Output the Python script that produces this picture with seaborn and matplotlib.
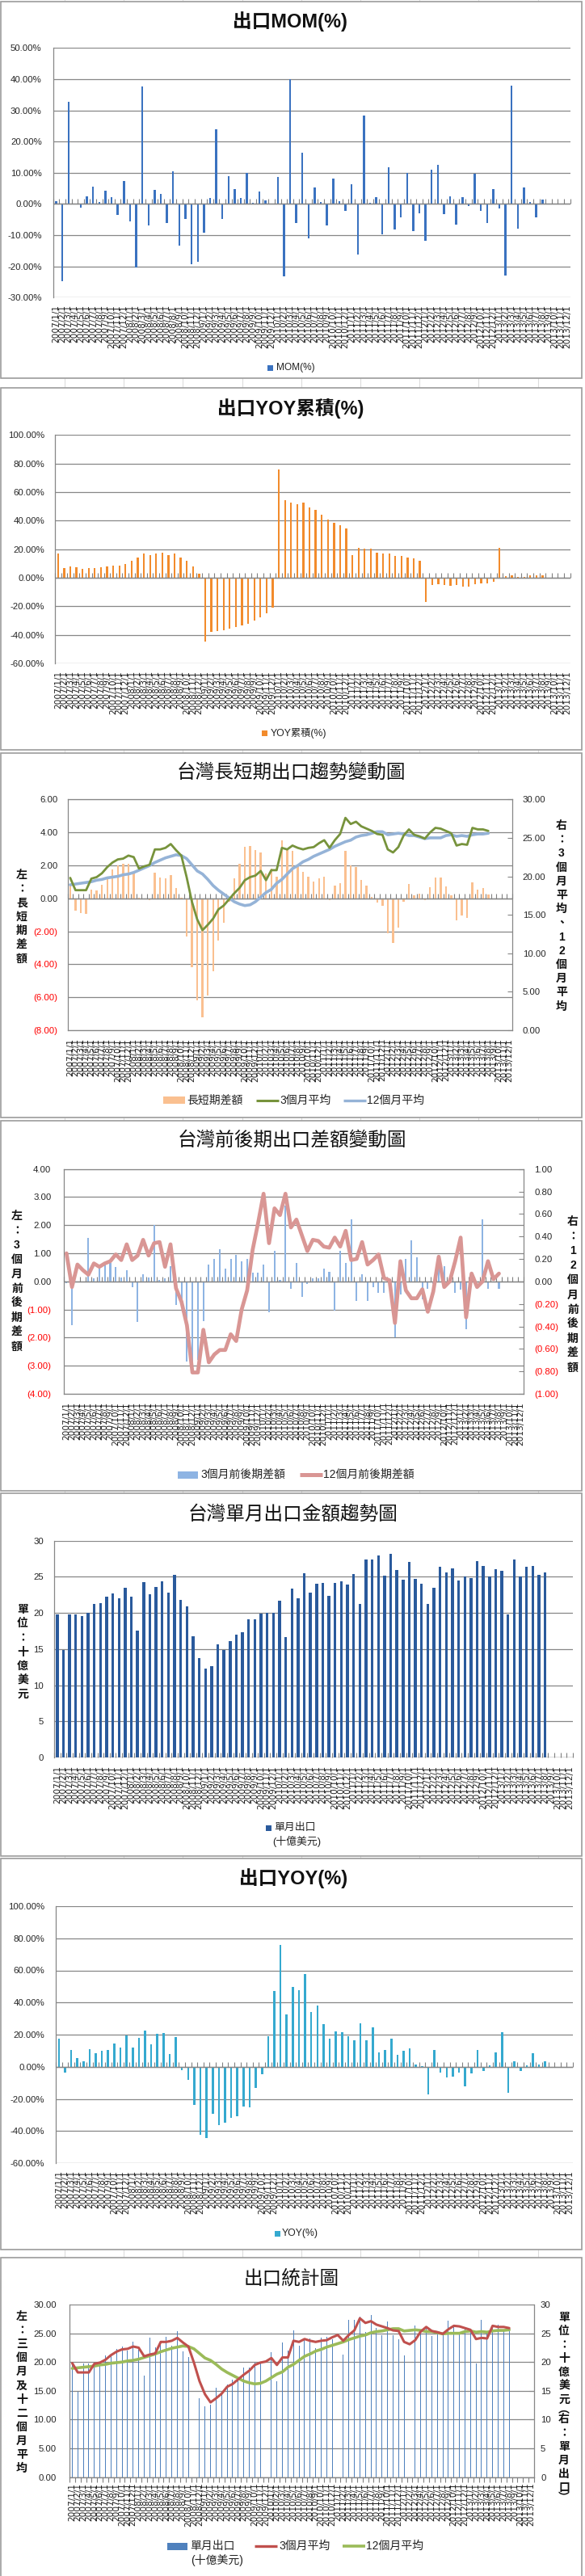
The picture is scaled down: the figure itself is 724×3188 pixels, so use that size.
import numpy as np
import pandas as pd
import matplotlib
matplotlib.use("Agg")
import matplotlib.pyplot as plt
import seaborn as sns
from matplotlib.patches import Rectangle
from matplotlib.lines import Line2D

# ---------------- data ----------------
YEARS = [2007, 2008, 2009, 2010, 2011, 2012, 2013]
MONTHS = list(range(1, 13))
CATS = [f"{y}/{m}/1" for y in YEARS for m in MONTHS]   # 84 category labels

MOM = [0.9, -24.7, 32.7, 0.2, -1.1, 2.4, 5.5, 0.6, 4.2, 2.2, -3.5, 7.3,
       -5.5, -20.3, 37.6, -6.8, 4.5, 3.2, -6.0, 10.4, -13.3, -4.8, -19.3, -18.6,
       -9.1, 1.9, 23.9, -4.7, 8.9, 4.7, 1.9, 10.0, 0.3, 4.0, 1.1, 0.1,
       8.6, -23.1, 40.0, -6.1, 16.4, -11.1, 5.3, 0.6, -6.8, 8.1, 0.9, -2.2,
       6.3, -16.2, 28.3, 0.3, 2.2, -9.8, 11.7, -8.1, -4.4, 10.0, -8.6, -2.9,
       -11.7, 11.0, 12.5, -3.2, 2.4, -6.6, 2.2, -0.7, 9.7, -2.2, -6.1, 4.7,
       -1.4, -22.9, 37.9, -7.9, 5.3, 0.5, -4.2, 1.4]

YOY_CUM = [17.2, 7.0, 8.1, 7.6, 6.4, 7.0, 7.0, 7.6, 8.1, 8.7, 8.7, 9.8,
           11.6, 14.4, 17.2, 16.1, 17.2, 17.8, 16.1, 16.7, 14.4, 11.6, 8.1, 3.0,
           -44.5, -37.9, -37.3, -36.7, -35.6, -34.5, -33.3, -32.2, -29.9, -27.7, -24.8, -20.8,
           75.8, 54.2, 52.5, 51.3, 52.5, 49.1, 47.3, 43.9, 40.5, 38.3, 36.6, 34.8,
           16.1, 21.2, 20.1, 20.6, 17.8, 16.7, 16.7, 15.5, 15.0, 14.4, 13.3, 12.1,
           -17.0, -4.9, -4.4, -4.9, -5.5, -4.9, -6.1, -6.1, -4.4, -3.8, -3.8, -2.7,
           21.2, 1.3, 1.9, 0.8, 0.8, 1.9, 1.9, 1.9]

EXPORTS = [19.8, 14.9, 19.8, 19.8, 19.6, 20.0, 21.2, 21.4, 22.3, 22.7, 22.0, 23.5,
           22.2, 17.6, 24.3, 22.6, 23.6, 24.4, 22.8, 25.3, 21.8, 20.9, 16.8, 13.7,
           12.3, 12.6, 15.6, 14.9, 16.1, 17.0, 17.3, 19.1, 19.1, 19.9, 20.0, 20.0,
           21.7, 16.7, 23.4, 22.0, 25.5, 22.8, 24.0, 24.1, 22.4, 24.2, 24.4, 23.9,
           25.4, 21.3, 27.4, 27.4, 27.9, 25.2, 28.2, 25.9, 24.6, 27.1, 24.7, 24.0,
           21.2, 23.5, 26.4, 25.6, 26.2, 24.5, 25.0, 24.8, 27.2, 26.5, 25.0, 26.1,
           25.8, 19.8, 27.4, 25.1, 26.4, 26.5, 25.3, 25.6]

YOY = [17.3, -3.5, 10.3, 5.2, 3.2, 10.8, 8.2, 9.8, 10.3, 14.3, 11.8, 19.4,
       11.8, 17.8, 22.4, 13.8, 20.4, 20.9, 7.7, 18.4, -1.9, -8.4, -23.6, -42.3,
       -44.6, -29.1, -36.2, -34.7, -31.6, -30.6, -24.6, -25.1, -13.0, -4.9, 18.9, 47.1,
       75.9, 32.5, 49.7, 47.6, 57.7, 34.0, 38.0, 26.4, 17.3, 21.9, 21.4, 18.9,
       16.3, 26.9, 16.3, 24.4, 8.8, 10.3, 17.3, 7.2, 9.8, 11.3, 1.2, 0.3,
       -17.0, 10.3, -3.4, -6.9, -6.4, -3.4, -12.0, -4.4, 10.3, -2.4, 0.7, 8.8,
       21.4, -16.0, 3.2, -2.4, 0.7, 8.2, 1.2, 3.2]

AVG3 = [19.8, 18.2, 18.2, 18.2, 19.7, 19.9, 20.4, 21.2, 21.8, 22.2, 22.3, 22.7,
        22.5, 21.0, 21.3, 21.5, 23.5, 23.5, 23.7, 24.2, 23.4, 22.7, 19.9, 16.7,
        14.4, 13.0, 13.7, 14.5, 15.7, 16.2, 17.0, 17.8, 18.5, 19.5, 19.9, 20.1,
        20.7, 19.5, 20.8, 20.8, 23.7, 23.5, 24.0, 23.7, 23.5, 23.7, 23.8, 24.3,
        24.7, 23.7, 24.7, 25.5, 27.6, 26.8, 27.1, 26.5, 26.2, 25.9, 25.5, 25.4,
        23.5, 23.1, 23.8, 25.3, 26.1, 25.4, 25.2, 24.9, 25.7, 26.3, 26.2, 25.9,
        25.6, 24.0, 24.2, 24.1, 26.3, 26.1, 26.1, 25.9]

AVG12 = [18.9, 19.0, 19.1, 19.2, 19.3, 19.5, 19.6, 19.8, 19.9, 20.0, 20.2, 20.3,
         20.5, 20.8, 21.1, 21.4, 21.8, 22.1, 22.4, 22.6, 22.8, 22.7, 22.3, 21.5,
         20.7, 20.3, 19.6, 18.8, 18.2, 17.7, 17.2, 16.7, 16.4, 16.2, 16.3, 16.7,
         17.3, 17.9, 18.3, 19.1, 19.6, 20.3, 21.0, 21.4, 21.9, 22.2, 22.6, 22.9,
         23.2, 23.5, 23.9, 24.2, 24.5, 24.7, 25.1, 25.3, 25.4, 25.6, 25.8, 25.8,
         25.4, 25.5, 25.6, 25.5, 25.3, 25.3, 25.1, 24.9, 25.0, 25.0, 25.0, 25.3,
         25.4, 25.2, 25.3, 25.2, 25.4, 25.5, 25.5, 25.6]

LS_DIFF = [0.8, -0.75, -0.9, -0.95, 0.55, 0.5, 0.8, 1.2, 1.75, 2.0, 2.1, 2.1,
           1.6, 0.05, -0.05, -0.1, 1.55, 1.25, 1.2, 1.4, 0.6, 0.05, -2.3, -4.2,
           -6.2, -7.2, -5.9, -4.4, -2.55, -1.5, -0.2, 1.2, 2.1, 3.1, 3.15, 2.95,
           2.8, 1.5, 1.8, 1.3, 3.5, 3.0, 2.9, 2.0, 1.6, 1.3, 1.0, 1.2,
           1.3, -0.1, 0.75, 0.9, 2.9, 2.0, 1.9, 1.1, 0.75, 0.1, -0.25, -0.45,
           -2.1, -2.7, -1.8, -0.2, 0.85, 0.2, 0.3, -0.1, 0.65, 1.25, 1.25, 0.7,
           0.2, -1.35, -1.05, -1.2, 0.95, 0.55, 0.6, 0.25]

D3 = [-0.05, -1.55, 0.0, 0.0, 1.55, 0.1, 0.5, 0.6, 0.65, 0.5, 0.15, 0.4,
      -0.2, -1.45, 0.25, 0.15, 2.0, 0.05, 0.1, 0.55, -0.85, -0.7, -2.85, -3.2,
      -2.8, -1.4, 0.6, 0.8, 1.15, 0.45, 0.8, 0.95, 0.7, 0.8, 0.3, 0.3,
      0.6, -1.1, 1.1, 0.05, 2.7, -0.25, 0.65, -0.55, -0.1, 0.1, 0.1, 0.45,
      0.35, -1.05, 1.1, 0.65, 2.2, -0.7, 0.25, -0.7, -0.2, -0.4, -0.4, -0.05,
      -2.0, -0.45, 0.8, 1.45, 0.85, -0.65, -0.25, -0.1, 0.6, 0.55, -0.05, -0.4,
      -0.3, -1.7, 0.1, 0.0, 2.2, -0.25, 0.0, -0.25]

D12 = [0.25, -0.05, 0.15, 0.10, 0.06, 0.16, 0.13, 0.16, 0.18, 0.24, 0.19, 0.33,
       0.19, 0.23, 0.37, 0.23, 0.34, 0.35, 0.13, 0.33, -0.06, -0.18, -0.39, -0.81,
       -0.81, -0.43, -0.72, -0.65, -0.61, -0.61, -0.47, -0.53, -0.25, -0.08, 0.28, 0.52,
       0.78, 0.34, 0.65, 0.59, 0.78, 0.48, 0.55, 0.41, 0.27, 0.37, 0.36, 0.31,
       0.30, 0.39, 0.31, 0.45, 0.19, 0.20, 0.35, 0.15, 0.19, 0.24, 0.03, 0.01,
       -0.37, 0.18, -0.08, -0.15, -0.15, -0.07, -0.27, -0.09, 0.22, -0.05, 0.00, 0.18,
       0.39, -0.32, 0.07, -0.05, 0.00, 0.18, 0.02, 0.07]

# ---------------- style ----------------
sns.set_style("white")
plt.rcParams['font.family'] = ['Liberation Sans', 'Noto Sans CJK TC', 'DejaVu Sans']
plt.rcParams['axes.unicode_minus'] = False

W, H = 724, 3188
fig = plt.figure(figsize=(W / 100, H / 100), dpi=100)
fig.patch.set_facecolor('white')

GRID = '#878787'
N = len(CATS)
BOUNDS = np.arange(N + 1) - 0.5


def fx(x):
    return x / W


def fy(y):
    return 1 - y / H


def add_ax(l, t, r, b):
    return fig.add_axes([fx(l), fy(b), (r - l) / W, (b - t) / H])


# faint spreadsheet grid behind the chart objects
for gx in [80, 153, 226, 300, 373, 446, 519, 592, 666]:
    fig.add_artist(Line2D([fx(gx)] * 2, [0, 1], transform=fig.transFigure,
                          color='#DCDCDC', lw=0.8, zorder=-2))

# chart object frames
for (t, b) in [(2, 468), (480, 928), (932, 1383), (1387, 1845), (1848, 2297),
               (2300, 2784), (2794, 3200)]:
    fig.add_artist(Rectangle((fx(1), fy(b)), 719 / W, (b - t) / H,
                             transform=fig.transFigure, facecolor='white',
                             edgecolor='#9C9C9C', lw=1.2, zorder=-1))


def bars(ax, values, color, width, zorder=2):
    df = pd.DataFrame({'month': CATS[:len(values)], 'v': values})
    sns.barplot(data=df, x='month', y='v', order=CATS, color=color, width=width,
                saturation=1, errorbar=None, ax=ax, linewidth=0, zorder=zorder)
    ax.set_xlabel('')
    ax.set_ylabel('')


def line(ax, values, color, lw):
    sns.lineplot(x=np.arange(len(values)), y=values, color=color, linewidth=lw,
                 ax=ax, solid_capstyle='round', solid_joinstyle='round', zorder=4)
    ax.set_xlabel('')
    ax.set_ylabel('')


def xcats(ax, pad_px):
    ax.set_xlim(-0.5, N - 0.5)
    ax.set_xticks(range(N))
    ax.set_xticklabels(CATS, rotation=90, fontsize=7.6, family='DejaVu Sans',
                       color='#202020')
    ax.tick_params(axis='x', length=0, pad=pad_px * 0.72)


def yaxis(ax, lo, hi, step, fmt, pad_px, red_neg=False, grid=True, tick_len=0):
    ticks = np.arange(lo, hi + step / 2, step)
    ax.set_ylim(lo, hi)
    ax.set_yticks(ticks)
    ax.set_yticklabels([fmt(t) for t in ticks], fontsize=8.2, color='#262626')
    ax.tick_params(axis='y', length=tick_len, direction='in', color=GRID,
                   pad=pad_px * 0.72)
    if red_neg:
        for t, lab in zip(ticks, ax.get_yticklabels()):
            if t < -1e-9:
                lab.set_color('#FF0000')
    if grid:
        ax.yaxis.grid(True, color=GRID, lw=0.9)
        ax.xaxis.grid(False)
        ax.set_axisbelow(True)


def spines(ax, box=False):
    for s in ['top', 'right', 'bottom', 'left']:
        ax.spines[s].set_visible(box or s == 'left')
        ax.spines[s].set_color(GRID)
        ax.spines[s].set_linewidth(0.9)
    ax.set_facecolor('none')


def zero_ticks(ax, down=False):
    ax.axhline(0, color=GRID, lw=1.0, zorder=2.5)
    ax.plot(BOUNDS, np.zeros(len(BOUNDS)), ls='none', marker=3 if down else 2,
            ms=4, mew=0.8, color='#808080', clip_on=False, zorder=3)


def title(x, y, s, bold=True):
    fig.text(fx(x), fy(y), s, ha='center', va='center', fontsize=17,
             fontweight='bold' if bold else 'normal', color='#111111')


def vtext(x, y0, chars, steps, size=10):
    y = y0
    for i, ch in enumerate(chars):
        fig.text(fx(x), fy(y), ch, ha='center', va='center', fontsize=size,
                 fontweight='bold', color='#111111')
        y += steps[i] if isinstance(steps, list) else steps


def leg_patch(x0, x1, yc, h, color):
    fig.add_artist(Rectangle((fx(x0), fy(yc + h / 2)), (x1 - x0) / W, h / H,
                             transform=fig.transFigure, facecolor=color, lw=0))


def leg_line(x0, x1, yc, color, lw):
    fig.add_artist(Line2D([fx(x0), fx(x1)], [fy(yc)] * 2, transform=fig.transFigure,
                          color=color, lw=lw, solid_capstyle='butt'))


def leg_text(x, yc, s, size=9.5):
    fig.text(fx(x), fy(yc), s, ha='left', va='center', fontsize=size, color='#222222')


def pct(v):
    return f"{v:.2f}%"


def paren(v):
    return f"({abs(v):.2f})" if v < -1e-9 else f"{abs(v):.2f}"


# ================= Panel 1: MOM =================
title(359, 27, '出口MOM(%)')
ax = add_ax(65.7, 59.3, 705.6, 368.3)
bars(ax, MOM, '#3A72C0', 0.32)
xcats(ax, 9)
yaxis(ax, -30, 50, 10, pct, 14)
spines(ax)
zero_ticks(ax)
leg_patch(331, 338, 455, 7, '#3A72C0')
leg_text(342, 455, 'MOM(%)', 8.6)

# ================= Panel 2: YOY cumulative =================
title(360, 505, '出口YOY累積(%)')
ax = add_ax(68, 538.3, 705.6, 821)
bars(ax, YOY_CUM, '#F28B2C', 0.30)
xcats(ax, 9)
yaxis(ax, -60, 100, 20, pct, 13)
spines(ax)
zero_ticks(ax)
leg_patch(324, 331, 907.7, 7, '#F28B2C')
leg_text(335, 907.7, 'YOY累積(%)', 8.8)

# ================= Panel 3: long/short trend =================
title(360, 957, '台灣長短期出口趨勢變動圖', bold=False)
ax = add_ax(83.6, 989.3, 633.8, 1275)
bars(ax, LS_DIFF, '#FAC090', 0.36)
xcats(ax, 10)
yaxis(ax, -8, 6, 2, paren, 12, red_neg=True)
spines(ax, box=True)
zero_ticks(ax)
ax2 = ax.twinx()
line(ax2, AVG12, '#95B3D7', 2.6)
line(ax2, AVG3, '#77933C', 2.0)
ax2.set_xlim(-0.5, N - 0.5)
yaxis(ax2, 0, 30, 5, lambda v: f"{v:.2f}", 13, grid=False, tick_len=4)
for s in ax2.spines.values():
    s.set_visible(False)
vtext(27, 1083, list('左：長短期差額'), 17.3)
vtext(695, 1022, ['右', '：', '3', '個', '月', '平', '均', '、', '1', '2', '個', '月', '平', '均'], 17.2)
leg_patch(202, 229, 1361.7, 9, '#FAC090')
leg_text(231, 1361.7, '長短期差額', 10)
leg_line(317, 345, 1361.7, '#77933C', 2.2)
leg_text(346, 1361.7, '3個月平均', 10)
leg_line(425, 453, 1361.7, '#95B3D7', 2.4)
leg_text(454, 1361.7, '12個月平均', 10)

# ================= Panel 4: period-to-period difference =================
title(361, 1412, '台灣前後期出口差額變動圖', bold=False)
ax = add_ax(78.9, 1446.7, 648, 1725)
bars(ax, D3, '#8EB4E3', 0.30)
xcats(ax, 10)
yaxis(ax, -4, 4, 1, paren, 15.5, red_neg=True)
spines(ax, box=True)
zero_ticks(ax)
ax2 = ax.twinx()
line(ax2, D12, '#D99694', 3.4)
ax2.set_xlim(-0.5, N - 0.5)
yaxis(ax2, -1, 1, 0.2, paren, 13, red_neg=True, grid=False, tick_len=4)
for s in ax2.spines.values():
    s.set_visible(False)
vtext(21, 1505, ['左', '：', '3', '個', '月', '前', '後', '期', '差', '額'], 18)
vtext(709, 1512, ['右', '：', '1', '2', '個', '月', '前', '後', '期', '差', '額'], 18.1)
leg_patch(220, 245, 1825, 9, '#8EB4E3')
leg_text(248, 1825, '3個月前後期差額', 10)
leg_line(371, 399, 1825, '#D99694', 3.6)
leg_text(400, 1825, '12個月前後期差額', 10)

# ================= Panel 5: monthly export amount =================
title(363, 1875, '台灣單月出口金額趨勢圖', bold=False)
ax = add_ax(67, 1906.7, 709, 2175)
bars(ax, EXPORTS, '#2A5A9C', 0.45)
xcats(ax, 10)
yaxis(ax, 0, 30, 5, lambda v: f"{v:.0f}", 13)
spines(ax)
zero_ticks(ax)
vtext(28, 1992, list('單位：十億美元'), 17.5)
leg_patch(329, 336, 2262, 7, '#2A5A9C')
leg_text(339, 2262, '單月出口', 9.3)
leg_text(337, 2279, '(十億美元)', 9.3)

# ================= Panel 6: YOY =================
title(363, 2325, '出口YOY(%)')
ax = add_ax(69, 2359, 709, 2677)
bars(ax, YOY, '#35A9CF', 0.34)
xcats(ax, 9)
yaxis(ax, -60, 100, 20, pct, 13.6)
spines(ax)
zero_ticks(ax)
leg_patch(340, 347, 2764, 7, '#35A9CF')
leg_text(349, 2764, 'YOY(%)', 8.8)

# ================= Panel 7: export statistics =================
title(361, 2820, '出口統計圖', bold=False)
ax = add_ax(86, 2852, 661, 3065.7)
bars(ax, EXPORTS, '#4F81BD', 0.14)
xcats(ax, 7)
yaxis(ax, 0, 30, 5, lambda v: f"{v:.2f}", 16)
spines(ax, box=True)
ax.spines['top'].set_visible(False)
zero_ticks(ax, down=True)
ax2 = ax.twinx()
line(ax2, AVG12, '#9BBB59', 2.6)
line(ax2, AVG3, '#C0504D', 2.2)
ax2.set_xlim(-0.5, N - 0.5)
yaxis(ax2, 0, 30, 5, lambda v: f"{v:.0f}", 8, grid=False, tick_len=4)
for s in ax2.spines.values():
    s.set_visible(False)
vtext(27, 2867, list('左：三個月及十二個月平均'), 17.1)
vtext(698, 2868, list('單位：十億美元︵右：單月出口︶'),
      [17, 17, 17, 17, 17, 17, 12, 12, 17, 17, 17, 17, 17, 12, 12])
leg_patch(207, 232, 3151, 9, '#4F81BD')
leg_text(235, 3151, '單月出口', 10)
leg_text(236, 3168, '(十億美元)', 10)
leg_line(315, 343, 3151, '#C0504D', 2.4)
leg_text(345, 3151, '3個月平均', 10)
leg_line(424, 452, 3151, '#9BBB59', 2.6)
leg_text(453, 3151, '12個月平均', 10)

fig.savefig('out.png', dpi=100, facecolor='white')
